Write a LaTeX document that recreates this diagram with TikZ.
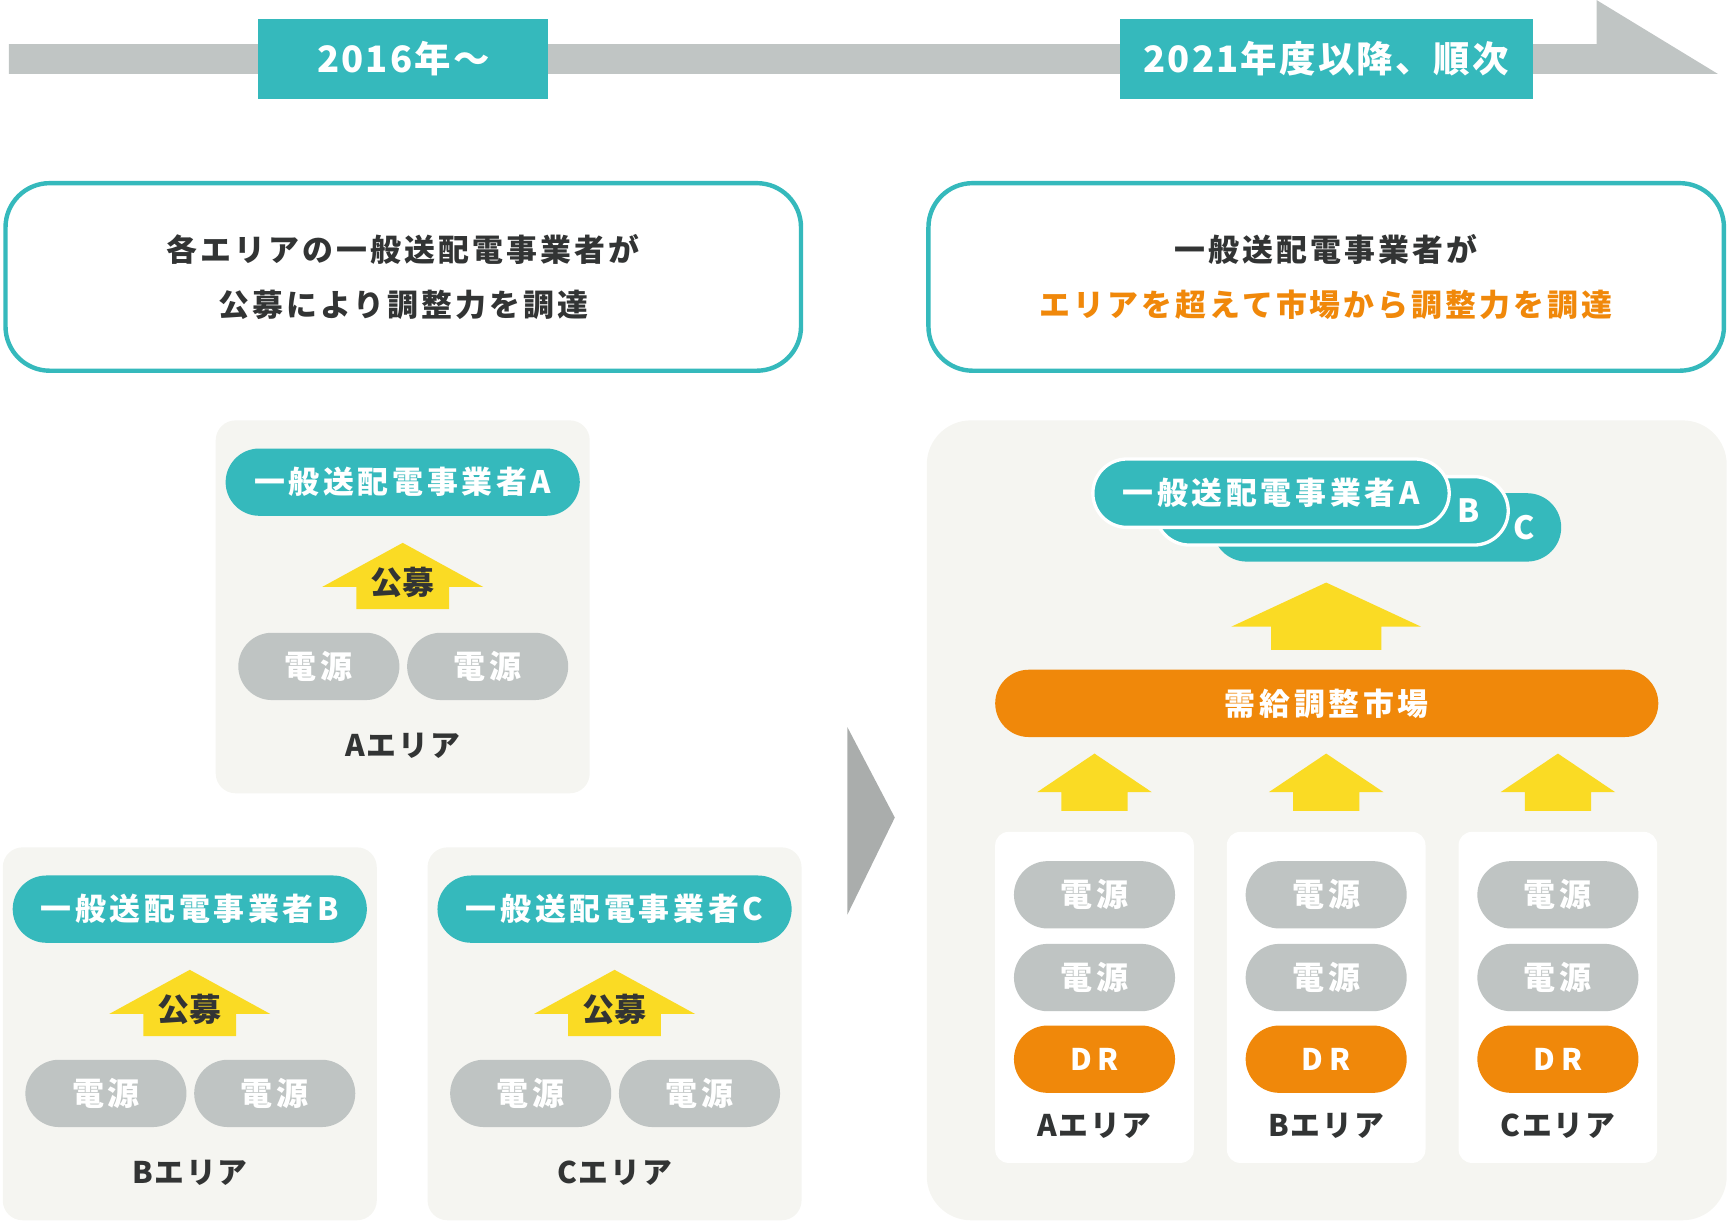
\documentclass[tikz,border=0pt]{standalone}
\usepackage{fontspec}
\setmainfont{Noto Sans CJK JP}
\usepackage{tikz}
\usetikzlibrary{shapes.misc,positioning,calc}
\definecolor{teal}{RGB}{53,185,188}
\definecolor{grayp}{RGB}{191,196,195}
\definecolor{bg}{RGB}{245,245,241}
\definecolor{yel}{RGB}{250,219,36}
\definecolor{org}{RGB}{240,136,10}
\definecolor{dark}{RGB}{50,52,52}
\definecolor{tl}{RGB}{192,197,196}
\definecolor{tri}{RGB}{170,173,172}
\newcommand{\opfont}{\bfseries\fontsize{14}{16}\selectfont\addfontfeature{LetterSpace=12}}
\newcommand{\srcfont}{\bfseries\fontsize{14.5}{16}\selectfont\addfontfeature{LetterSpace=12}}
\newcommand{\drfont}{\bfseries\fontsize{13.5}{16}\selectfont\addfontfeature{LetterSpace=20}}
\newcommand{\areafont}{\bfseries\fontsize{13.5}{16}\selectfont\addfontfeature{LetterSpace=6}}
\newcommand{\headfont}{\bfseries\fontsize{14}{25}\selectfont\addfontfeature{LetterSpace=10}}
\newcommand{\yrfont}{\bfseries\fontsize{16.5}{18}\selectfont\addfontfeature{LetterSpace=6}}
\newcommand{\kobofont}{\bfseries\fontsize{14.5}{16}\selectfont}
% x, tip y, head half width, shaft half width, head height, total height
\newcommand{\fatup}[6]{\fill[yel] ({#1},{#2}) -- ({#1+#3},{#2+#5}) -- ({#1+#4},{#2+#5})
  -- ({#1+#4},{#2+#6}) -- ({#1-#4},{#2+#6}) -- ({#1-#4},{#2+#5}) -- ({#1-#3},{#2+#5}) -- cycle;}

\begin{document}
\begin{tikzpicture}[x=0.5pt,y=-0.5pt,
  op/.style={rounded rectangle,fill=teal,text=white,minimum width=160.5pt,
             minimum height=30.5pt,inner sep=0pt,font=\opfont},
  src/.style={rounded rectangle,fill=grayp,text=white,minimum width=73pt,
              minimum height=30.5pt,inner sep=0pt,font=\srcfont},
  dr/.style={src,fill=org,font=\drfont},
  area/.style={text=dark,font=\areafont},
  kobo/.style={text=dark,font=\kobofont},
  yr/.style={fill=teal,text=white,minimum height=36.5pt,inner sep=0pt,font=\yrfont},
  head/.style={draw=teal,line width=2pt,rounded corners=20pt,fill=white,
               minimum width=360.5pt,minimum height=85pt,align=center,text=dark,font=\headfont},
  pan/.style={fill=bg,rounded corners=9pt}]
  \useasboundingbox (0,0) rectangle (1568,1108);

  % time line
  \fill[tl] (8,40) -- (1447,40) -- (1447,0) -- (1557,67) -- (8,67) -- cycle;
  \node[yr,minimum width=131.5pt] (y16) at (365.5,53.5) {2016年～};
  \node[yr,minimum width=187pt] (y21) at (1202,53.5) {2021年度以降、順次};

  % headings
  \node[head] (hL) at (365.5,251) {各エリアの一般送配電事業者が\\公募により調整力を調達};
  \node[head] (hR) at (1202,251) {一般送配電事業者が\\\textcolor{org}{エリアを超えて市場から調整力を調達}};

  % today: one area, one operator
  \foreach \px/\py/\l in {365/381/A,172/768/B,557/768/C}{
    \fill[pan] ({\px-169.5},\py) rectangle ({\px+169.5},{\py+338});
    \node[op] (op\l) at (\px,{\py+56}) {一般送配電事業者\l};
    \fatup{\px}{\py+111}{73}{42}{40}{60}
    \node[kobo] (kobo\l) at (\px,{\py+147}) {公募};
    \node[src] (src\l1) at ({\px-76},{\py+223}) {電源};
    \node[src] (src\l2) at ({\px+77},{\py+223}) {電源};
    \node[area] (area\l) at (\px,{\py+295}) {\l エリア};
  }

  \fill[tri] (768,659) -- (811,741) -- (768,829) -- cycle;

  % later: common market
  \fill[bg,rounded corners=20pt] (840,381) rectangle (1565,1106);
  \node[op,minimum width=158pt,minimum height=31pt] (opCC) at (1257,478) {};
  \node[op,minimum width=160pt,minimum height=31pt,draw=white,line width=1.5pt] (opBB) at (1207,463) {};
  \node[op,minimum width=161.5pt,minimum height=31pt,draw=white,line width=1.5pt] (opAA) at (1152,447) {一般送配電事業者A};
  \node[text=white,font=\kobofont] (lbB) at ([xshift=-18.5pt]opBB.east) {B};
  \node[text=white,font=\kobofont] (lbC) at ([xshift=-17pt]opCC.east) {C};
  \fatup{1202}{528}{86}{50}{40}{61}
  \node[op,fill=org,minimum width=300.5pt] (mkt) at (1202.5,637.5) {需給調整市場};

  \foreach \cx/\l in {992/A,1202/B,1412/C}{
    \fatup{\cx}{683}{52}{30}{35}{52}
    \fill[white,rounded corners=6pt] ({\cx-90},754) rectangle ({\cx+90},1054);
    \node[src] (p\l1) at (\cx,811) {電源};
    \node[src] (p\l2) at (\cx,886) {電源};
    \node[dr] (dr\l) at (\cx,960) {DR};
    \node[area] (ar\l) at (\cx,1020) {\l エリア};
  }
\end{tikzpicture}
\end{document}
